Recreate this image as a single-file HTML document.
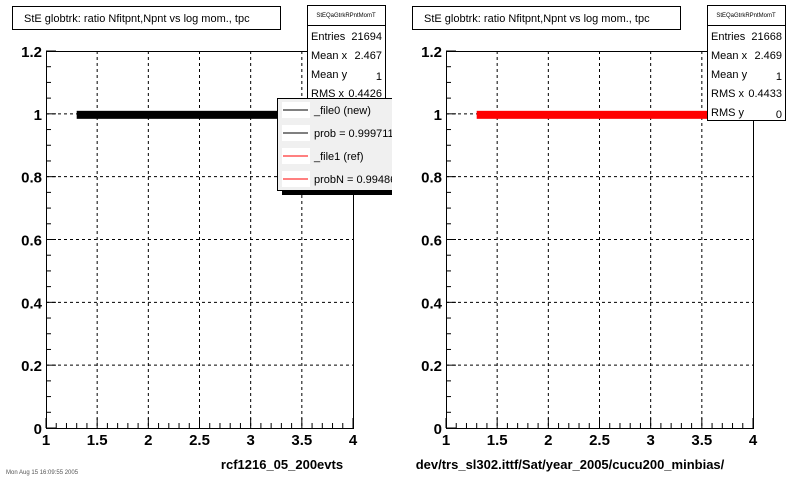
<!DOCTYPE html>
<html><head><meta charset="utf-8"><style>
body{margin:0;background:#fff;font-family:"Liberation Sans",sans-serif;}
svg text{font-family:"Liberation Sans",sans-serif;}
</style></head><body>
<svg id="c" width="800" height="480" xmlns="http://www.w3.org/2000/svg">
<rect width="800" height="480" fill="#fff"/>
</svg>
<script>
const xTicks=[1,1.5,2,2.5,3,3.5,4];
const xTickLabels=["1","1.5","2","2.5","3","3.5","4"];
const yTicks=[0,0.2,0.4,0.6,0.8,1,1.2];
const yTickLabels=["0","0.2","0.4","0.6","0.8","1","1.2"];
const bandNewX=[1.3,3.55];
const bandNewY=[1];
const bandRefX=[1.3,3.6];
const bandRefY=[1];
const statsNew=[["Entries","21694"],["Mean x","2.467"],["Mean y","1"],["RMS x","0.4426"]];
const statsRef=[["Entries","21668"],["Mean x","2.469"],["Mean y","1"],["RMS x","0.4433"],["RMS y","0"]];
const legendLabels=["_file0 (new)","prob = 0.999711","_file1 (ref)","probN = 0.99486"];
const legendColors=["#000","#000","#f00","#f00"];

const svg=document.getElementById('c');
const NS="http://www.w3.org/2000/svg";
function el(tag,attrs,parent){const e=document.createElementNS(NS,tag);for(const k in attrs)e.setAttribute(k,attrs[k]);(parent||svg).appendChild(e);return e;}

function panel(ox,id,bandX,bandY,color,stats,subtitle,subX){
  const x0=ox+46,x1=ox+353,yTop=51,yBot=428;
  const sx=v=>x0+(v-1)/3*(x1-x0);
  const sy=v=>yBot-v/1.2*(yBot-yTop);
  const g=el('g',{});
  
  
  // grid
  xTicks.forEach((t,i)=>{if(i>0&&i<xTicks.length-1){const l=el('line',{x1:sx(t),x2:sx(t),y1:yTop,y2:yBot,stroke:'#000','stroke-dasharray':'3,3','stroke-width':1},g);}});
  yTicks.forEach((t,i)=>{if(i>0&&i<yTicks.length-1){const l=el('line',{x1:x0,x2:x1,y1:sy(t),y2:sy(t),stroke:'#000','stroke-dasharray':'3,3','stroke-width':1},g);}});
  // band
  const b=el('rect',{x:sx(bandX[0]),y:sy(bandY[0])-3,width:sx(bandX[1])-sx(bandX[0]),height:8,fill:color},g);
  
  
  // frame
  const f=el('rect',{x:x0+.5,y:yTop+.5,width:x1-x0,height:yBot-yTop,fill:'none',stroke:'#000','stroke-width':1},g);
  
  
  // minor ticks
  for(let v=1;v<=4.001;v+=0.1){el('line',{x1:sx(v),x2:sx(v),y1:yBot,y2:yBot-(Math.abs(v*2-Math.round(v*2))<0.01?10:5),stroke:'#000'},g);}
  for(let v=0;v<=1.2001;v+=0.05){el('line',{x1:x0,x2:x0+(Math.abs(v*5-Math.round(v*5))<0.01?10:5),y1:sy(v),y2:sy(v),stroke:'#000'},g);}
  xTicks.forEach((t,i)=>{const tx=el('text',{x:sx(t),y:445,'font-size':15,'font-weight':'bold','text-anchor':'middle'},g);tx.textContent=xTickLabels[i];});
  yTicks.forEach((t,i)=>{const tx=el('text',{x:x0-4,y:sy(t)+6,'font-size':15,'font-weight':'bold','text-anchor':'end'},g);tx.textContent=yTickLabels[i];});
  // title
  const tb=el('rect',{x:ox+12.5,y:6.5,width:268,height:23,fill:'#fff',stroke:'#000'},g);
  
  const tt=el('text',{x:ox+24,y:22,'font-size':11},g);tt.textContent="StE globtrk: ratio Nfitpnt,Npnt vs log mom., tpc";
  
  // stats
  const sx0=ox+307,sw=78,rowH=19;
  const sb=el('rect',{x:sx0+.5,y:5.5,width:sw,height:20+stats.length*rowH,fill:'#fff',stroke:'#000'},g);
  
  el('line',{x1:sx0,x2:sx0+sw,y1:25.5,y2:25.5,stroke:'#000'},g);
  const sn=el('text',{x:sx0+sw/2,y:17,'font-size':6,'text-anchor':'middle'},g);sn.textContent="StEQaGtrkRPntMomT";
  
  stats.forEach((s,i)=>{const y=40+i*rowH;
    const a=el('text',{x:sx0+4,y:y,'font-size':11},g);a.textContent=s[0];
    const c=el('text',{x:sx0+sw-3,y:y+(s[0]==='Mean y'||s[0]==='RMS y'?2:0),'font-size':11,'text-anchor':'end'},g);c.textContent=s[1];});
  const st=el('text',{x:subX,y:469,'font-size':13,'font-weight':'bold','text-anchor':'middle'},g);st.textContent=subtitle;
  
}
panel(0,'left',bandNewX,bandNewY,'#000',statsNew,'rcf1216_05_200evts',282);
panel(400,'right',bandRefX,bandRefY,'#f00',statsRef,'dev/trs_sl302.ittf/Sat/year_2005/cucu200_minbias/',570);

// legend
const lg=el('g',{});


el('rect',{x:282,y:190,width:112,height:5,fill:'#000'},lg);
el('rect',{x:277.5,y:98.5,width:120,height:92,fill:'#f0f0f0',stroke:'#000'},lg);
legendLabels.forEach((t,i)=>{const y=110+i*23;
  el('rect',{x:282,y:y-8,width:28,height:16,fill:'#fff'},lg);
  const l=el('line',{x1:283,x2:308,y1:y,y2:y,stroke:legendColors[i],'stroke-width':1},lg);
  
  const tx=el('text',{x:314,y:y+4,'font-size':11},lg);tx.textContent=t;
  });
el('rect',{x:392,y:90,width:10,height:120,fill:'#fff'},lg);
const ft=el('text',{x:6,y:474,'font-size':6,fill:'#555'});ft.textContent="Mon Aug 15 16:09:55 2005";

</script>
</body></html>
